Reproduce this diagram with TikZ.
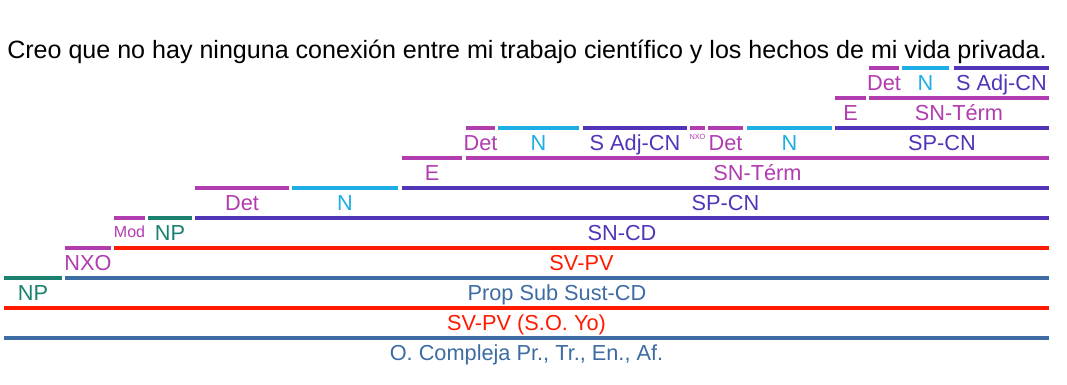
\documentclass[tikz,border=0pt]{standalone}
\usepackage{fontspec}
\setmainfont{Liberation Sans}
\definecolor{cmag}{HTML}{B13CB0}
\definecolor{ccyan}{HTML}{1EAEE6}
\definecolor{cind}{HTML}{5234B8}
\definecolor{cteal}{HTML}{1A8070}
\definecolor{cred}{HTML}{FF1A00}
\definecolor{csteel}{HTML}{3D6BA3}
\tikzset{
  segline/.style={line width=2.5pt},
  lab/.style={anchor=base,inner sep=0pt,font=\fontsize{16.3}{16.3}\selectfont},
  smalllab/.style={anchor=base,inner sep=0pt,font=\fontsize{12}{12}\selectfont},
  tinylab/.style={anchor=base,inner sep=0pt,font=\fontsize{5.5}{5.5}\selectfont},
}
% name, x1, x2, y, colour, text, style, baseline offset
\newcommand{\seg}[8]{%
  \draw[segline,draw=#5] (#2,#4) -- (#3,#4);
  \node[#7,text=#5] (#1) at ({(#2+#3)/2},{#4+#8}) {#6};
}
\begin{document}
\begin{tikzpicture}[x=0.75pt,y=-0.75pt]
\useasboundingbox (0,0) rectangle (1067,385);
\node[anchor=base west,inner sep=0pt,font=\fontsize{18.8}{18.8}\selectfont] (sent) at (7,59) {Creo que no hay ninguna conexión entre mi trabajo científico y los hechos de mi vida privada.};
% row 1
\seg{det3}{869}{899}{68}{cmag}{Det}{lab}{22}
\seg{n3}{902}{949}{68}{ccyan}{N}{lab}{22}
\seg{sadj2}{954}{1049}{68}{cind}{S Adj-CN}{lab}{22}
% row 2
\seg{e2}{835}{866}{98}{cmag}{E}{lab}{22}
\seg{snt2}{869}{1049}{98}{cmag}{SN-Térm}{lab}{22}
% row 3
\seg{det2a}{466}{495}{128}{cmag}{Det}{lab}{22}
\seg{n2a}{498}{579}{128}{ccyan}{N}{lab}{22}
\seg{sadj1}{583}{687}{128}{cind}{S Adj-CN}{lab}{22}
\seg{nxo2}{690}{705}{128}{cmag}{NXO}{tinylab}{11}
\seg{det2b}{708}{743}{128}{cmag}{Det}{lab}{22}
\seg{n2b}{747}{832}{128}{ccyan}{N}{lab}{22}
\seg{spcn2}{835}{1049}{128}{cind}{SP-CN}{lab}{22}
% row 4
\seg{e1}{402}{462}{158}{cmag}{E}{lab}{22}
\seg{snt1}{466}{1049}{158}{cmag}{SN-Térm}{lab}{22}
% row 5
\seg{det1}{195}{289}{188}{cmag}{Det}{lab}{22}
\seg{n1}{292}{398}{188}{ccyan}{N}{lab}{22}
\seg{spcn1}{402}{1049}{188}{cind}{SP-CN}{lab}{22}
% row 6
\seg{mod}{114}{145}{218}{cmag}{Mod}{smalllab}{19}
\seg{np2}{148}{192}{218}{cteal}{NP}{lab}{22}
\seg{sncd}{195}{1049}{218}{cind}{SN-CD}{lab}{22}
% row 7
\seg{nxo1}{65}{111}{248}{cmag}{NXO}{lab}{22}
\seg{svpv}{114}{1049}{248}{cred}{SV-PV}{lab}{22}
% row 8
\seg{np1}{4}{62}{278}{cteal}{NP}{lab}{22}
\seg{propsub}{65}{1049}{278}{csteel}{Prop Sub Sust-CD}{lab}{22}
% row 9
\seg{svpvyo}{4}{1049}{308}{cred}{SV-PV (S.O. Yo)}{lab}{22}
% row 10
\seg{ocomp}{4}{1049}{338}{csteel}{O. Compleja Pr., Tr., En., Af.}{lab}{22}
\end{tikzpicture}
\end{document}
